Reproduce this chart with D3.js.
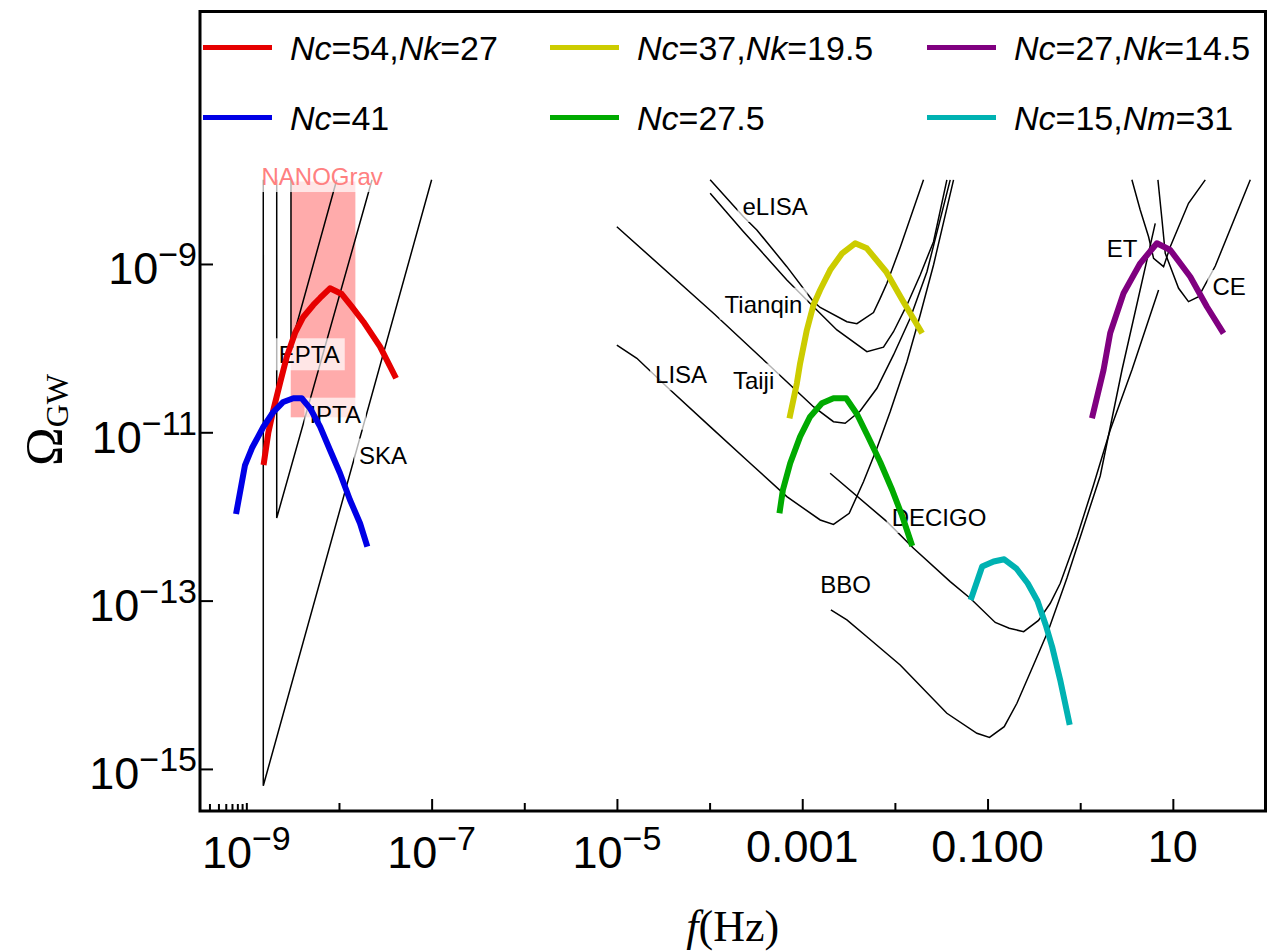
<!DOCTYPE html>
<html>
<head>
<meta charset="utf-8">
<script src="https://cdn.jsdelivr.net/npm/d3@7"></script>
<style>
  body { margin: 0; background: #fff; }
  svg { display: block; font-family: "Liberation Sans", Arial, sans-serif; }
</style>
</head>
<body>
<svg id="chart" width="1275" height="951"></svg>
<script>
// All points are [log10 f (Hz), log10 Omega_GW]

// Pulsar timing arrays
const ska  = [[-8.817, -8], [-8.817, -15.2], [-7.0, -8]];
const ipta = [[-8.672, -8], [-8.672, -12.018], [-7.643, -8]];
const epta = [[-8.518, -8], [-8.518, -9.963], [-8.024, -8]];
const nanogravBox = { f: [-8.521, -7.823], om: [-10.822, -8.02] };

// Space and ground detectors
const elisa = [[-3.994, -8], [-3.634, -8.438], [-3.49, -8.596], [-3.166, -9.032], [-2.879, -9.448],
  [-2.806, -9.517], [-2.518, -9.686], [-2.41, -9.71], [-2.231, -9.577], [-2.159, -9.408],
  [-2.086, -9.23], [-1.943, -8.804], [-1.691, -8]];
const tianqin = [[-3.994, -8.16], [-3.634, -8.616], [-3.166, -9.19], [-2.879, -9.508], [-2.626, -9.784],
  [-2.302, -10.042], [-2.123, -9.989], [-2.015, -9.805], [-1.87, -9.487], [-1.727, -9.131],
  [-1.583, -8.735], [-1.439, -8]];
const taiji = [[-5.001, -8.557], [-3.958, -9.586], [-3.454, -10.102], [-2.879, -10.696], [-2.663, -10.874],
  [-2.537, -10.893], [-2.375, -10.747], [-2.194, -10.477], [-2.015, -10.081], [-1.835, -9.645],
  [-1.654, -9.092], [-1.403, -8]];
const lisa = [[-5.001, -9.963], [-4.785, -10.121], [-4.462, -10.458], [-3.994, -10.933], [-3.562, -11.368],
  [-3.166, -11.765], [-2.806, -12.042], [-2.663, -12.095], [-2.493, -11.962], [-2.339, -11.587],
  [-2.194, -11.19], [-2.051, -10.755], [-1.87, -10.161], [-1.727, -9.606], [-1.583, -9.012], [-1.367, -8]];
const decigo = [[-2.699, -11.487], [-2.086, -12.062], [-1.799, -12.378], [-1.403, -12.775], [-1.187, -12.972],
  [-0.917, -13.26], [-0.766, -13.329], [-0.61, -13.369], [-0.45, -13.236], [-0.323, -13.032],
  [-0.215, -12.794], [-0.035, -12.244], [0.144, -11.626], [0.324, -10.973], [0.558, -10.26], [0.846, -9.309]];
const bbo = [[-2.691, -13.111], [-2.518, -13.23], [-2.302, -13.429], [-1.943, -13.765], [-1.439, -14.339],
  [-1.115, -14.577], [-0.979, -14.626], [-0.82, -14.498], [-0.683, -14.22], [-0.504, -13.765],
  [-0.342, -13.349], [-0.143, -12.731], [0.036, -12.125], [0.216, -11.519], [0.451, -10.26], [0.81, -8.517]];
const et = [[0.558, -8], [0.648, -8.359], [0.738, -8.676], [0.792, -8.933], [0.9, -9.032],
  [0.972, -8.795], [1.169, -8.279], [1.35, -8]];
const ce = [[0.839, -8], [0.883, -8.477], [0.918, -8.873], [1.062, -9.289], [1.169, -9.448],
  [1.278, -9.389], [1.458, -9.024], [1.836, -8]];

const detectorCurves = [ska, ipta, epta, elisa, tianqin, taiji, lisa, decigo, bbo, et, ce];

// Model spectra
const red = [[-8.814, -11.389], [-8.763, -11.008], [-8.709, -10.737], [-8.636, -10.414], [-8.564, -10.105],
  [-8.474, -9.82], [-8.385, -9.63], [-8.277, -9.487], [-8.204, -9.404], [-8.097, -9.289], [-7.97, -9.357],
  [-7.859, -9.511], [-7.737, -9.686], [-7.557, -9.983], [-7.384, -10.358]];
const blue = [[-9.111, -11.971], [-9.014, -11.389], [-8.939, -11.187], [-8.817, -10.937], [-8.709, -10.759],
  [-8.601, -10.64], [-8.493, -10.596], [-8.402, -10.596], [-8.312, -10.715], [-8.204, -10.933],
  [-8.097, -11.21], [-7.989, -11.487], [-7.881, -11.804], [-7.773, -12.081], [-7.694, -12.359]];
const yellow = [[-3.138, -10.834], [-3.058, -10.418], [-3.023, -10.18], [-2.95, -9.784], [-2.879, -9.487],
  [-2.807, -9.309], [-2.699, -9.072], [-2.569, -8.873], [-2.429, -8.754], [-2.303, -8.814],
  [-2.094, -9.092], [-1.907, -9.452], [-1.706, -9.824]];
const green = [[-3.246, -11.962], [-3.209, -11.686], [-3.13, -11.368], [-3.023, -11.052], [-2.915, -10.815],
  [-2.788, -10.655], [-2.663, -10.596], [-2.526, -10.596], [-2.41, -10.783], [-2.288, -11.056],
  [-2.159, -11.353], [-2.029, -11.686], [-1.921, -11.995], [-1.813, -12.351]];
const cyan = [[-1.182, -12.993], [-1.058, -12.595], [-0.934, -12.535], [-0.82, -12.509], [-0.691, -12.616],
  [-0.567, -12.794], [-0.461, -13.005], [-0.372, -13.29], [-0.302, -13.551], [-0.216, -13.943], [-0.113, -14.478]];
const purple = [[0.127, -10.834], [0.252, -10.26], [0.324, -9.82], [0.468, -9.348], [0.648, -8.992],
  [0.828, -8.754], [0.972, -8.834], [1.188, -9.151], [1.368, -9.508], [1.547, -9.824]];

const modelSeries = [red, yellow, purple, blue, green, cyan];
const modelColors = ['#e60000', '#cccc00', '#800080', '#0000e6', '#00aa00', '#00b2b2'];
const modelNames = ['Nc=54,Nk=27', 'Nc=37,Nk=19.5', 'Nc=27,Nk=14.5', 'Nc=41', 'Nc=27.5', 'Nc=15,Nm=31'];

// Detector labels: name and text anchor (start, baseline) in log units
const labelNames = ['NANOGrav', 'EPTA', 'IPTA', 'SKA', 'eLISA', 'Tianqin', 'Taiji', 'LISA', 'DECIGO', 'BBO', 'ET', 'CE'];
const labelAnchors = [[-8.836, -8.062], [-8.649, -10.18], [-8.319, -10.886], [-7.783, -11.371],
  [-3.645, -8.418], [-3.838, -9.579], [-3.748, -10.48], [-4.588, -10.418], [-2.035, -12.113],
  [-2.806, -12.913], [0.287, -8.921], [1.428, -9.369]];

// Ticks
const xTickValues = [1e-9, 1e-7, 1e-5, 1e-3, 1e-1, 10];
const xTickLabels = ['10^-9', '10^-7', '10^-5', '0.001', '0.100', '10'];
const xTicksLong = [1e-7, 1e-5, 1e-3, 1e-1, 10];
const xTicksShort = [1e-9, 1e-8, 1e-6, 1e-4, 1e-2, 1];
const xTicksMinor = [4e-10, 5e-10, 6e-10, 7e-10, 8e-10, 9e-10];
const yTickValues = [1e-9, 1e-11, 1e-13, 1e-15];
const yTickLabels = ['10^-9', '10^-11', '10^-13', '10^-15'];

// ---------------------------------------------------------------
const svg = d3.select('#chart');
const plotLeft = 200, plotRight = 1265.5, plotTop = 11.5, plotBottom = 811;

const x = d3.scaleLog().domain([10 ** -9.5, 1e2]).range([plotLeft, plotRight]);
const y = d3.scaleLog().domain([10 ** -15.5, 1e-6]).range([plotBottom, plotTop]);
const px = d => x(10 ** d[0]);
const py = d => y(10 ** d[1]);
const line = d3.line().x(px).y(py);

svg.append('clipPath').attr('id', 'plot-clip')
  .append('rect').attr('x', plotLeft).attr('y', plotTop)
  .attr('width', plotRight - plotLeft).attr('height', plotBottom - plotTop);

const plot = svg.append('g').attr('clip-path', 'url(#plot-clip)');

// NANOGrav region
plot.append('rect')
  .attr('x', x(10 ** nanogravBox.f[0]))
  .attr('y', y(10 ** nanogravBox.om[1]))
  .attr('width', x(10 ** nanogravBox.f[1]) - x(10 ** nanogravBox.f[0]))
  .attr('height', y(10 ** nanogravBox.om[0]) - y(10 ** nanogravBox.om[1]))
  .attr('fill', '#ff0000')
  .attr('fill-opacity', 0.33);

// sensitivity curves
plot.selectAll('path.sens')
  .data(detectorCurves)
  .enter()
  .append('path')
  .attr('class', 'sens')
  .attr('d', line)
  .attr('fill', 'none')
  .attr('stroke', '#000')
  .attr('stroke-width', 1.5);

// labels with translucent white background
const labelG = plot.append('g').attr('font-size', 24);
labelNames.forEach((name, i) => {
  const a = labelAnchors[i];
  const g = labelG.append('g');
  const t = g.append('text')
    .attr('x', px(a))
    .attr('y', py(a))
    .attr('fill', name === 'NANOGrav' ? '#ff8080' : '#000')
    .text(name);
  const b = t.node().getBBox();
  g.insert('rect', 'text')
    .attr('x', b.x - 5)
    .attr('y', b.y - 3)
    .attr('width', b.width + 10)
    .attr('height', b.height + 5)
    .attr('fill', '#fff')
    .attr('fill-opacity', 0.7);
});

// model spectra
plot.selectAll('path.model')
  .data(modelSeries)
  .enter()
  .append('path')
  .attr('class', 'model')
  .attr('d', line)
  .attr('fill', 'none')
  .attr('stroke', (d, i) => modelColors[i])
  .attr('stroke-width', 6)
  .attr('stroke-linejoin', 'round');

// Legend (3 columns x 2 rows)
const legendCols = [203, 550, 927];
const legendRows = [47.5, 117.5];
modelNames.forEach((name, i) => {
  const cx = legendCols[i % 3], cy = legendRows[Math.floor(i / 3)];
  svg.append('line')
    .attr('x1', cx).attr('x2', cx + 69)
    .attr('y1', cy).attr('y2', cy)
    .attr('stroke', modelColors[i])
    .attr('stroke-width', 5);
  const t = svg.append('text')
    .attr('x', cx + 87)
    .attr('y', cy + 12)
    .attr('font-size', 34);
  name.split(/(N[ckm])/).filter(s => s.length).forEach(part => {
    t.append('tspan')
      .attr('font-style', /^N[ckm]$/.test(part) ? 'italic' : 'normal')
      .text(part);
  });
});

// Ticks (inward)
function tickRow(values, len) {
  svg.append('g')
    .attr('transform', `translate(0,${plotBottom})`)
    .call(d3.axisBottom(x).tickValues(values).tickSize(-len).tickSizeOuter(0).tickFormat(() => ''))
    .call(g => g.select('.domain').remove())
    .call(g => g.selectAll('line').attr('stroke', '#000').attr('stroke-width', 2));
}
tickRow(xTicksLong, 12);
tickRow(xTicksShort, 8);
tickRow(xTicksMinor, 7);

svg.append('g')
  .attr('transform', `translate(${plotLeft},0)`)
  .call(d3.axisLeft(y).tickValues(yTickValues).tickSize(-13).tickSizeOuter(0).tickFormat(() => ''))
  .call(g => g.select('.domain').remove())
  .call(g => g.selectAll('line').attr('stroke', '#000').attr('stroke-width', 2));

// frame
svg.append('rect')
  .attr('x', plotLeft).attr('y', plotTop)
  .attr('width', plotRight - plotLeft).attr('height', plotBottom - plotTop)
  .attr('fill', 'none')
  .attr('stroke', '#000')
  .attr('stroke-width', 3);

// tick labels with superscripts
function powerLabel(sel, label) {
  const [base, exp] = label.split('^');
  sel.append('tspan').attr('font-size', 45).text(base);
  if (exp) {
    sel.append('tspan').attr('font-size', 34).attr('dy', -18).text(exp.replace('-', '\u2212'));
  }
}

xTickLabels.forEach((lab, i) => {
  const t = svg.append('text')
    .attr('x', x(xTickValues[i]))
    .attr('y', lab.includes('^') ? 868 : 862)
    .attr('text-anchor', 'middle');
  powerLabel(t, lab);
});

yTickLabels.forEach((lab, i) => {
  const t = svg.append('text')
    .attr('x', 197)
    .attr('y', y(yTickValues[i]) + 20.5)
    .attr('text-anchor', 'end');
  powerLabel(t, lab);
});

// axis titles
const xt = svg.append('text')
  .attr('x', (plotLeft + plotRight) / 2)
  .attr('y', 941)
  .attr('text-anchor', 'middle')
  .attr('font-family', '"Liberation Serif", "Times New Roman", serif')
  .attr('font-size', 44);
xt.append('tspan').attr('font-style', 'italic').text('f');
xt.append('tspan').text('(Hz)');

const yt = svg.append('text')
  .attr('transform', 'translate(62,420) rotate(-90)')
  .attr('text-anchor', 'middle')
  .attr('font-family', '"Liberation Serif", "Times New Roman", serif');
yt.append('tspan').attr('font-size', 52).text('\u03A9');
yt.append('tspan').attr('font-size', 32).attr('dy', 6).text('GW');
</script>
</body>
</html>
